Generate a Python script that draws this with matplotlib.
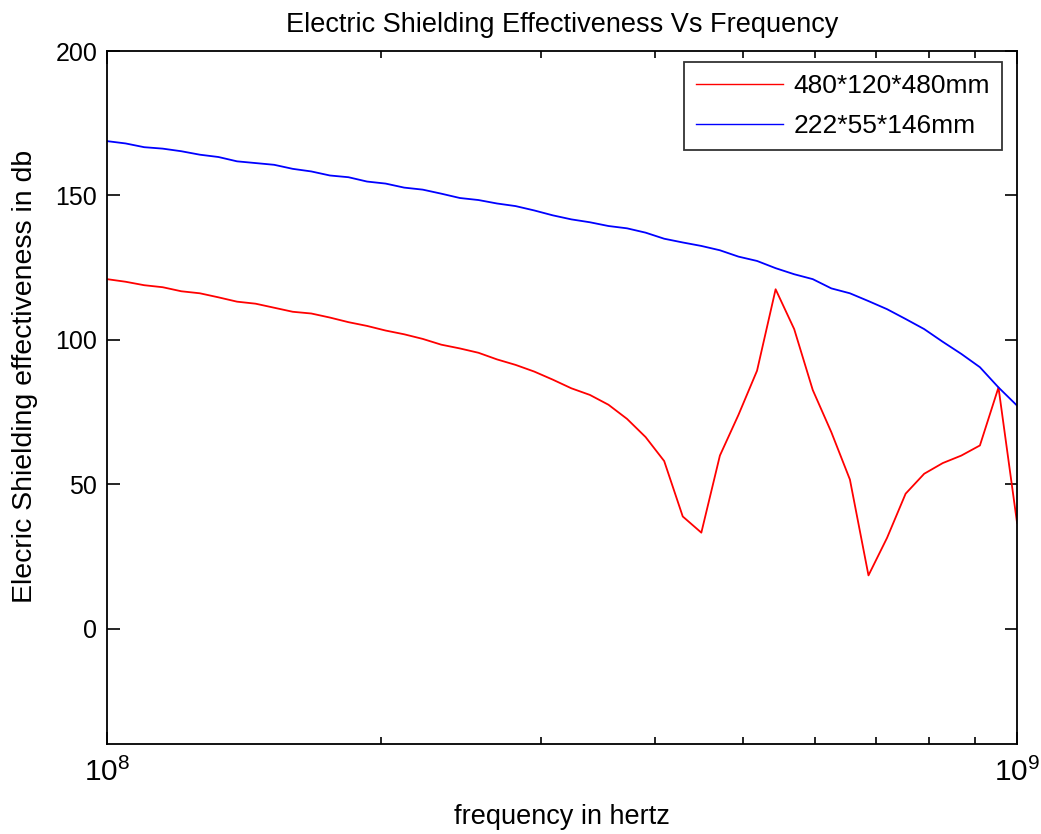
import numpy as np
import matplotlib
matplotlib.use("Agg")
import matplotlib.pyplot as plt
from matplotlib.ticker import FixedLocator, FuncFormatter, LogLocator, NullFormatter

plt.rcParams['font.family'] = ['Liberation Sans', 'DejaVu Sans']
plt.rcParams['mathtext.fontset'] = 'custom'
plt.rcParams['mathtext.rm'] = 'Liberation Sans'
plt.rcParams['mathtext.it'] = 'Liberation Sans'

freq = np.logspace(8, 9, 50)

se_large = [121.0, 120.1, 118.9, 118.2, 116.8, 116.1, 114.7, 113.2, 112.5, 111.1,
            109.7, 109.1, 107.7, 106.1, 104.8, 103.2, 101.9, 100.3, 98.3, 97.0,
            95.5, 93.2, 91.3, 89.0, 86.2, 83.2, 80.9, 77.5, 72.6, 66.3,
            58.0, 38.8, 33.2, 59.9, 74.0, 89.3, 117.5, 103.7, 82.6, 68.0,
            51.6, 18.4, 31.4, 46.7, 53.6, 57.3, 59.9, 63.4, 83.5, 36.6]

se_small = [168.8, 168.0, 166.7, 166.2, 165.3, 164.1, 163.3, 161.8, 161.2, 160.6,
            159.2, 158.3, 156.9, 156.3, 154.8, 154.1, 152.7, 152.0, 150.6, 149.1,
            148.4, 147.2, 146.3, 144.8, 143.1, 141.7, 140.7, 139.4, 138.6, 137.1,
            135.0, 133.7, 132.5, 131.0, 128.8, 127.3, 124.8, 122.7, 121.0, 117.8,
            116.1, 113.4, 110.6, 107.2, 103.7, 99.3, 95.1, 90.5, 83.5, 77.2]

labels = ['480*120*480mm', '222*55*146mm']
yticks = [0, 50, 100, 150, 200]

fig = plt.figure(figsize=(10.41, 8.34), dpi=100)
ax = fig.add_axes([0.1028, 0.1079, 0.977 - 0.1028, 0.9388 - 0.1079])

ax.plot(freq, se_large, color='#ff0000', lw=1.3, label=labels[0])
ax.plot(freq, se_small, color='#0000ff', lw=1.3, label=labels[1])

ax.set_xscale('log')
ax.set_xlim(1e8, 1e9)
ax.set_ylim(-40, 200)
ax.yaxis.set_major_locator(FixedLocator(yticks))
ax.xaxis.set_major_locator(FixedLocator([1e8, 1e9]))
ax.xaxis.set_major_formatter(FuncFormatter(lambda v, p: r'$10^{%d}$' % int(round(np.log10(v)))))
ax.xaxis.set_minor_locator(LogLocator(base=10, subs=np.arange(2, 10)))
ax.xaxis.set_minor_formatter(NullFormatter())

ax.tick_params(axis='both', which='both', direction='in', top=True, right=True, width=1.2)
ax.tick_params(axis='both', which='major', length=9)
ax.tick_params(axis='x', which='minor', length=5)
ax.tick_params(axis='y', labelsize=18, pad=7)
ax.tick_params(axis='x', labelsize=21.5, pad=10)
for s in ax.spines.values():
    s.set_linewidth(1.3)

ax.set_title('Electric Shielding Effectiveness Vs Frequency', fontsize=19.5, pad=14)
ax.set_xlabel('frequency in hertz', fontsize=19.5, labelpad=12)
ax.set_ylabel('Elecric Shielding effectiveness in db', fontsize=20.5)
ax.yaxis.set_label_coords(-0.0755, 0.531)

leg = ax.legend(loc='upper right', fontsize=19, frameon=True, fancybox=False,
                edgecolor='black', handlelength=3.3, handletextpad=0.4, borderpad=0.45,
                bbox_to_anchor=(0.9835, 0.984), borderaxespad=0, labelspacing=0.6)
leg.get_frame().set_linewidth(1.3)
for h in leg.get_lines():
    h.set_linewidth(1.0)

fig.savefig('out.png', dpi=100, facecolor='white')
